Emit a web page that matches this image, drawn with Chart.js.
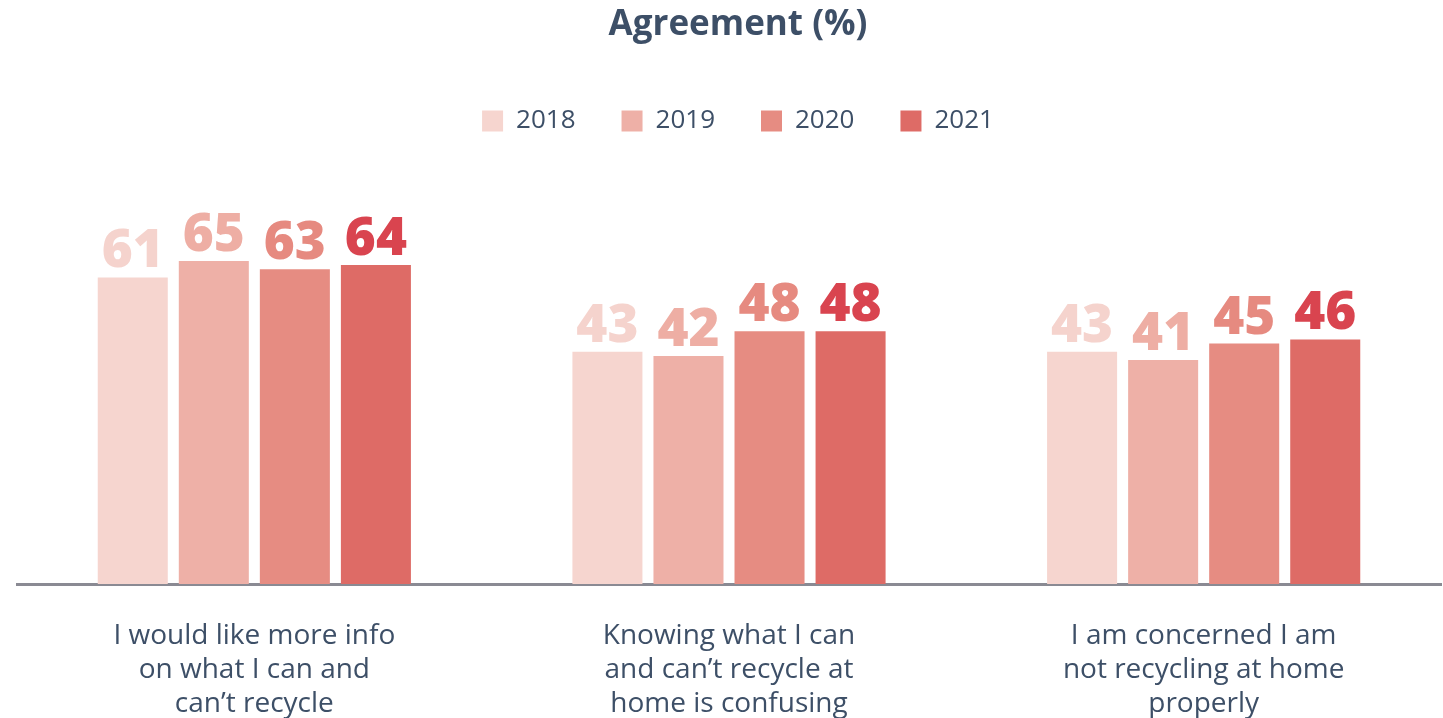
<!DOCTYPE html>
<html>
<head>
<meta charset="utf-8">
<script src="https://cdn.jsdelivr.net/npm/chart.js@4"></script>
<style>
  html, body { margin: 0; padding: 0; background: #fff; }
  #wrap { width: 1443px; height: 718px; }
</style>
</head>
<body>
<div id="wrap"><canvas id="grafico"></canvas></div>
<script>
// dados do gráfico
const categories = [
  ['I would like more info', 'on what I can and', 'can\u2019t recycle'],
  ['Knowing what I can', 'and can\u2019t recycle at', 'home is confusing'],
  ['I am concerned I am', 'not recycling at home', 'properly']
];
const years = ['2018', '2019', '2020', '2021'];
const values2018 = [61, 43, 43];
const values2019 = [65, 42, 41];
const values2020 = [63, 48, 45];
const values2021 = [64, 48, 46];

const barColors = ['#f6d5cf', '#eeb0a7', '#e68c82', '#de6b66'];
const labelColors = ['#f5d3cd', '#eeaea4', '#e68a80', '#d9444f'];
const textColor = '#3d4f67';
const yMin = -13.2;
const yMax = 93.3;

// rótulos de valor acima das barras
const valueLabels = {
  id: 'valueLabels',
  afterLayout(chart) {
    // título e legenda ficam um pouco à direita do centro da área
    const dx = 9;
    chart.titleBlock.left += dx;
    chart.titleBlock.right += dx;
    chart.legend.left += dx;
    chart.legend.right += dx;
  },
  afterDatasetsDraw(chart) {
    const ctx = chart.ctx;
    ctx.save();
    ctx.font = '800 53px "Open Sans"';
    ctx.textAlign = 'center';
    ctx.textBaseline = 'alphabetic';
    chart.data.datasets.forEach((ds, i) => {
      const meta = chart.getDatasetMeta(i);
      ctx.fillStyle = labelColors[i];
      meta.data.forEach((bar, j) => {
        ctx.fillText(ds.data[j], bar.x, bar.y - 10);
      });
    });
    ctx.restore();
  }
};

const seriesValues = [values2018, values2019, values2020, values2021];

let data = {
  labels: categories,
  datasets: years.map((y, i) => ({
    label: y,
    data: seriesValues[i],
    backgroundColor: barColors[i],
    borderWidth: 0,
    base: yMin,
    categoryPercentage: 0.683,
    barPercentage: 0.864
  }))
};

let options = {
  responsive: false,
  animation: false,
  layout: { padding: { left: 17, right: 2, top: 0, bottom: -38 } },
  plugins: {
    title: {
      display: true,
      text: 'Agreement (%)',
      color: textColor,
      font: { family: '"Open Sans"', size: 35, weight: 'bold' },
      padding: { top: 4, bottom: 16 }
    },
    legend: {
      display: true,
      labels: {
        color: textColor,
        font: { family: '"Open Sans"', size: 26 },
        boxWidth: 21,
        boxHeight: 21,
        padding: 46
      }
    },
    tooltip: { enabled: false }
  },
  scales: {
    x: {
      grid: { display: false, drawTicks: false },
      border: { display: true, color: '#8a8a93', width: 3 },
      ticks: {
        color: textColor,
        font: { family: '"Open Sans"', size: 28, lineHeight: 1.214 },
        padding: 35,
        maxRotation: 0,
        autoSkip: false
      }
    },
    y: {
      display: false,
      min: yMin,
      max: yMax
    }
  }
};

const canvas = document.getElementById('grafico');
canvas.width = 1443;
canvas.height = 718;
let barChart = new Chart(canvas.getContext('2d'), {
  type: 'bar',
  data: data,
  options: options,
  plugins: [valueLabels]
});
</script>
</body>
</html>
